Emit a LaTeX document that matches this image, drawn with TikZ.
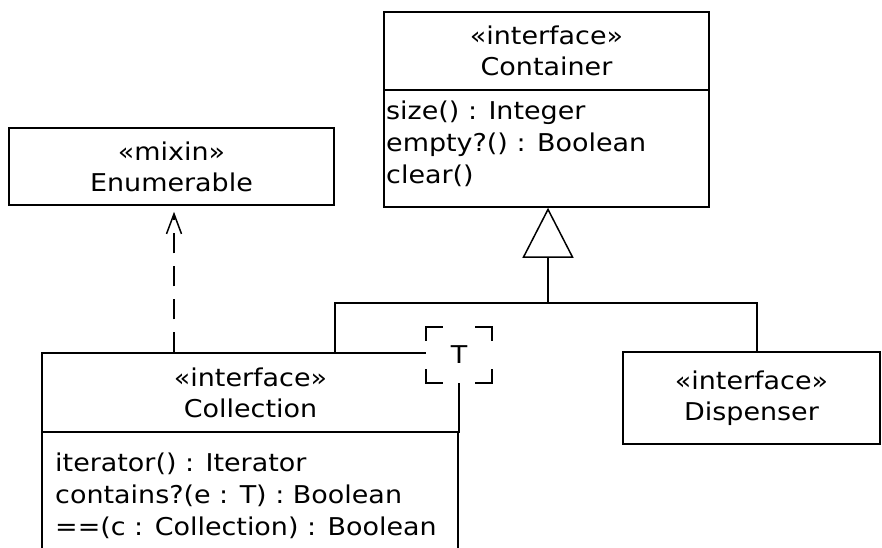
\documentclass[tikz,border=0pt]{standalone}
\usepackage{fontspec}
\setmainfont{DejaVu Sans}[FakeStretch=1.1]
\usetikzlibrary{arrows.meta}
\tikzset{
  umlbox/.style={draw, line width=1.5pt, inner sep=0pt, align=center,
    font=\fontsize{24.5}{31}\selectfont},
  umltext/.style={inner sep=0pt, align=left, anchor=north west,
    font=\fontsize{24.5}{32}\selectfont},
  gen/.style={line width=1.5pt, -{Triangle[open, length=50pt, width=51pt, line width=1.5pt]}},
  dep/.style={line width=1.5pt, dash pattern=on 20pt off 13pt, shorten >=6pt,
    -{Straight Barb[length=20pt, width=15pt, line width=1.5pt]}}
}
\begin{document}
\begin{tikzpicture}[x=1pt, y=-1pt]
  \clip (0,0) rectangle (882,547);
  \useasboundingbox (0,0) rectangle (882,547);
  \fill[white] (0,0) rectangle (882,547);

  \node[umlbox, minimum width=325pt, minimum height=78pt] (conth) at (546.5,51) {«interface»\\Container};
  \node[umlbox, minimum width=325pt, minimum height=117pt] (contb) at (546.5,148.5) {};
  \node[umltext] (contt) at (386,100.5) {size() : Integer\\empty?() : Boolean\\clear()};

  \node[umlbox, minimum width=325pt, minimum height=77pt] (enum) at (171.5,166.5) {«mixin»\\Enumerable};

  \node[umlbox, minimum width=416pt, minimum height=140pt] (colb) at (250,502) {};
  \node[umlbox, minimum width=417pt, minimum height=79pt] (colh) at (250.5,392.5) {«interface»\\Collection};
  \node[umltext] (colt) at (55,453) {iterator() : Iterator\\contains?(e : T) : Boolean\\==(c : Collection) : Boolean};

  \node[umlbox, minimum width=257pt, minimum height=92pt] (disp) at (751.5,398) {«interface»\\Dispenser};

  \node[fill=white, inner sep=0pt, minimum width=66pt, minimum height=56pt,
    font=\fontsize{24.5}{31}\selectfont] (tpl) at (459,355) {T};
  \begin{scope}[line width=1.5pt]
    \draw ([yshift=-14pt]tpl.north west) -- (tpl.north west) -- ([xshift=17pt]tpl.north west);
    \draw ([xshift=-17pt]tpl.north east) -- (tpl.north east) -- ([yshift=-14pt]tpl.north east);
    \draw ([yshift=14pt]tpl.south west) -- (tpl.south west) -- ([xshift=17pt]tpl.south west);
    \draw ([xshift=-17pt]tpl.south east) -- (tpl.south east) -- ([yshift=14pt]tpl.south east);
  \end{scope}

  \coordinate (jl) at (335,303);
  \coordinate (jm) at (548,303);
  \coordinate (jr) at (757,303);
  \draw[line width=1.5pt] (colh.north -| jl) -- (jl) -- (jr) -- (disp.north -| jr);
  \draw[gen] (jm) -- (contb.south -| jm);

  \coordinate (dp) at (174,0);
  \draw[dep] (colh.north -| dp) -- (enum.south -| dp);
\end{tikzpicture}
\end{document}
